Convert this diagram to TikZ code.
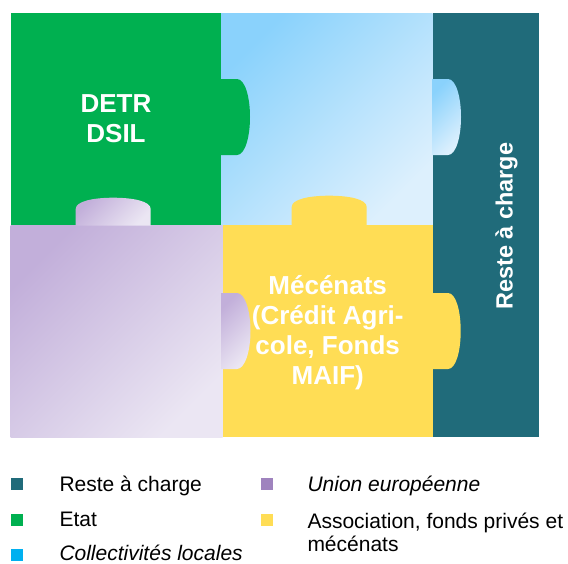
\documentclass[tikz,border=0pt]{standalone}
\usepackage{fontspec}
\setmainfont{Liberation Sans}
\definecolor{cgreen}{HTML}{00B050}
\definecolor{cteal}{HTML}{206B7A}
\definecolor{cblueA}{HTML}{8AD2FC}
\definecolor{cblueB}{HTML}{DDF0FD}
\definecolor{cpurA}{HTML}{C2AFDA}
\definecolor{cpurB}{HTML}{EBE6F3}
\definecolor{cyellow}{HTML}{FFDD55}
\definecolor{clblue}{HTML}{00B0F0}
\definecolor{clpur}{HTML}{9F83BE}
\tikzset{
  blueshade/.style={top color=cblueA, bottom color=cblueB, shading angle=45},
  purshade/.style={top color=cpurA, bottom color=cpurB, shading angle=45},
  bigtxt/.style={text=white, font=\bfseries\fontsize{26}{30}\selectfont, align=center, inner sep=0pt},
  rottxt/.style={text=white, font=\bfseries\fontsize{23.5}{28}\selectfont, inner sep=0pt},
  sq/.style={minimum size=12pt, inner sep=0pt, draw=none},
  lgd/.style={text=black, font=\fontsize{21}{23.5}\selectfont, inner sep=0pt, align=left},
}
\begin{document}
\begin{tikzpicture}[x=1pt,y=-1pt]
\useasboundingbox (0,0) rectangle (568,563);
\fill[white] (0,0) rectangle (568,563);
% squares
\fill[cgreen] (10.7,13) rectangle (221,225);
\shade[blueshade] (221,13) rectangle (432.7,225);
\fill[cteal] (432.7,13) rectangle (539,437);
\shade[purshade] (10.7,225) rectangle (222.7,437);
\fill[cyellow] (222.7,225) rectangle (432.7,437);
% tabs
\fill[cgreen] (221,79) -- (237,79) .. controls (245,79) and (250,97) .. (250,117)
  .. controls (250,137) and (245,155) .. (237,155) -- (221,155) -- cycle;
\shade[blueshade] (432,79) -- (448,79) .. controls (456,79) and (461,97) .. (461,117)
  .. controls (461,137) and (456,155) .. (448,155) -- (432,155) -- cycle;
\shade[purshade] (221,293) -- (237,293) .. controls (245,293) and (250.5,311) .. (250.5,331)
  .. controls (250.5,351) and (245,369) .. (237,369) -- (221,369) -- cycle;
\fill[cyellow] (432,293) -- (448,293) .. controls (456,293) and (460.7,311) .. (460.7,331)
  .. controls (460.7,351) and (456,369) .. (448,369) -- (432,369) -- cycle;
\shade[purshade] (75.7,225.5) -- (75.7,209) .. controls (75.7,201) and (94,197.7) .. (113.2,197.7)
  .. controls (132.4,197.7) and (150.7,201) .. (150.7,209) -- (150.7,225.5) -- cycle;
\fill[cyellow] (291.7,226) -- (291.7,207) .. controls (291.7,199) and (310,195.7) .. (329.2,195.7)
  .. controls (348.4,195.7) and (366.7,199) .. (366.7,207) -- (366.7,226) -- cycle;
% texts
\node[bigtxt] (detr) at (116,119) {DETR\\DSIL};
\node[bigtxt] (mec) at (327.7,333) {Mécénats\\(Crédit Agri-\\cole, Fonds\\MAIF)};
\node[rottxt, rotate=90, anchor=base] (rac) at (512.7,226.3) {Reste à charge};
% legend
\node[sq, fill=cteal] (s1) at (17.3,484) {};
\node[sq, fill=cgreen] (s2) at (17.3,520) {};
\node[sq, fill=clblue] (s3) at (17.3,555) {};
\node[sq, fill=clpur] (s4) at (267.2,484) {};
\node[sq, fill=cyellow] (s5) at (267.2,520) {};
\node[lgd, anchor=base west] (l1) at (59.3,491.7) {Reste à charge};
\node[lgd, anchor=base west] (l2) at (59.3,526.7) {Etat};
\node[lgd, anchor=base west] (l3) at (59.3,560.7) {\itshape Collectivités locales};
\node[lgd, anchor=base west] (l4) at (307.3,491.2) {\itshape Union européenne};
\node[lgd, anchor=north west] (l5) at (307.3,512.8) {Association, fonds privés et\\mécénats};
\end{tikzpicture}
\end{document}
